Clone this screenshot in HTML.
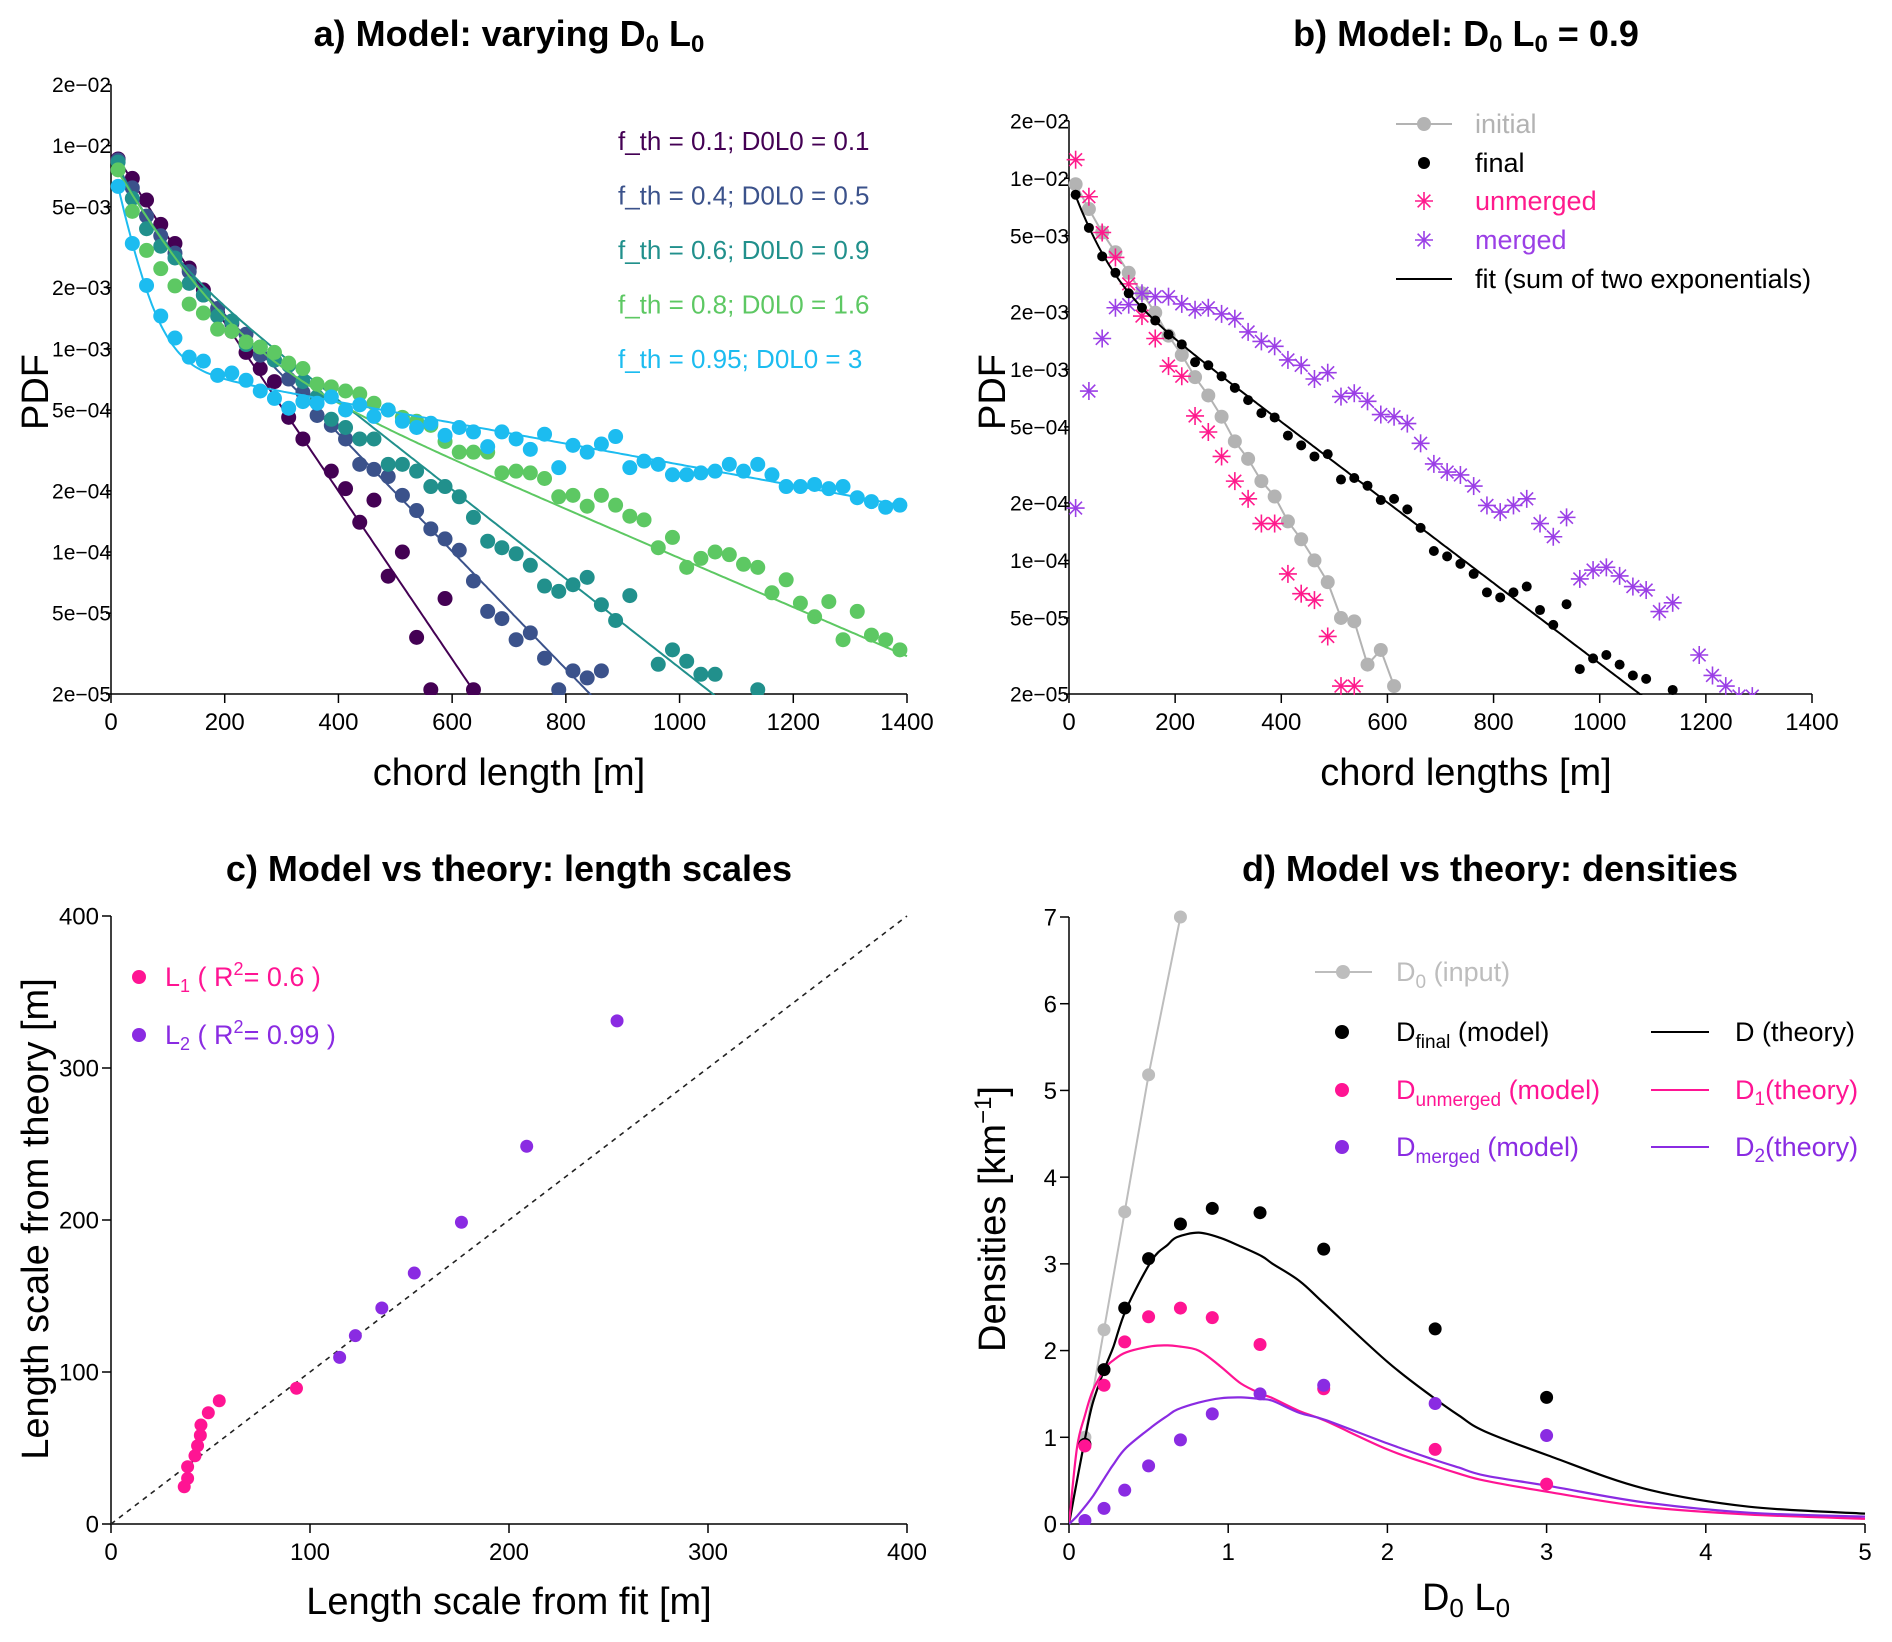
<!DOCTYPE html>
<html><head><meta charset="utf-8"><style>
html,body{margin:0;padding:0;background:#fff;}
svg{display:block;font-family:"Liberation Sans",sans-serif;}
</style></head><body>
<svg id="chart" xmlns="http://www.w3.org/2000/svg" width="1892" height="1642" viewBox="0 0 1892 1642">
<defs>
<clipPath id="clipA"><rect x="100" y="78" width="812" height="617"/></clipPath>
<clipPath id="clipB"><rect x="1060" y="112" width="760" height="583"/></clipPath>
<clipPath id="clipD"><rect x="1069" y="910" width="800" height="615"/></clipPath>
</defs>
<text x="509" y="46" text-anchor="middle" font-size="36" font-weight="bold">a) Model: varying D<tspan font-size="24" dy="6">0</tspan><tspan dy="-6"> L</tspan><tspan font-size="24" dy="6">0</tspan></text>
<text x="1466" y="46" text-anchor="middle" font-size="36" font-weight="bold">b) Model: D<tspan font-size="24" dy="6">0</tspan><tspan dy="-6"> L</tspan><tspan font-size="24" dy="6">0</tspan><tspan dy="-6"> = 0.9</tspan></text>
<text x="509" y="881" text-anchor="middle" font-size="36" font-weight="bold">c) Model vs theory: length scales</text>
<text x="1490" y="881" text-anchor="middle" font-size="36" font-weight="bold">d) Model vs theory: densities</text>
<text transform="translate(48,392) rotate(-90)" text-anchor="middle" font-size="38">PDF</text>
<text x="509" y="785" text-anchor="middle" font-size="38">chord length [m]</text>
<text transform="translate(1005,392) rotate(-90)" text-anchor="middle" font-size="38">PDF</text>
<text x="1466" y="785" text-anchor="middle" font-size="38">chord lengths [m]</text>
<text transform="translate(48,1219) rotate(-90)" text-anchor="middle" font-size="38">Length scale from theory [m]</text>
<text x="509" y="1614" text-anchor="middle" font-size="38">Length scale from fit [m]</text>
<text transform="translate(1005,1219) rotate(-90)" text-anchor="middle" font-size="38">Densities [km<tspan font-size="24" dy="-14">−1</tspan><tspan dy="14">]</tspan></text>
<text x="1466" y="1610" text-anchor="middle" font-size="38">D<tspan font-size="26" dy="7">0</tspan><tspan dy="-7"> L</tspan><tspan font-size="26" dy="7">0</tspan></text>
</svg>
<script>
// ---------- Panel a data ----------
const aLogTicks = [2e-2,1e-2,5e-3,2e-3,1e-3,5e-4,2e-4,1e-4,5e-5,2e-5];
const aLogTickLabels = ["2e−02","1e−02","5e−03","2e−03","1e−03","5e−04","2e−04","1e−04","5e−05","2e−05"];
const aXTicks = [0,200,400,600,800,1000,1200,1400];
const aLabels = ["f_th = 0.1; D0L0 = 0.1","f_th = 0.4; D0L0 = 0.5","f_th = 0.6; D0L0 = 0.9","f_th = 0.8; D0L0 = 1.6","f_th = 0.95; D0L0 = 3"];
const aColors = ["#440154","#3b528b","#21908c","#5dc863","#1cbcf0"];
const aS1 = [8.6e-3,6.9e-3,5.4e-3,4.1e-3,3.3e-3,2.5e-3,1.95e-3,1.5e-3,1.22e-3,9.6e-4,8.0e-4,6.9e-4,4.6e-4,3.6e-4,null,2.5e-4,2.05e-4,1.4e-4,1.8e-4,7.6e-5,1.0e-4,3.8e-5,2.1e-5,5.9e-5,null,2.1e-5];
const aS2 = [8.5e-3,6.2e-3,4.5e-3,3.6e-3,2.96e-3,2.4e-3,1.84e-3,1.58e-3,1.33e-3,1.18e-3,9.3e-4,8.8e-4,7.1e-4,6.1e-4,4.7e-4,4.2e-4,3.6e-4,2.7e-4,2.55e-4,2.35e-4,1.9e-4,1.6e-4,1.3e-4,1.16e-4,1.02e-4,7.2e-5,5.1e-5,4.7e-5,3.7e-5,4.0e-5,3.0e-5,2.1e-5,2.6e-5,2.4e-5,2.6e-5];
const aS3 = [8.3e-3,5.5e-3,3.9e-3,3.2e-3,2.8e-3,2.1e-3,1.84e-3,1.45e-3,1.37e-3,1.05e-3,1.02e-3,8.8e-4,8.3e-4,6.9e-4,5.8e-4,4.5e-4,4.1e-4,3.6e-4,3.6e-4,2.7e-4,2.7e-4,2.5e-4,2.1e-4,2.1e-4,1.87e-4,1.48e-4,1.13e-4,1.05e-4,9.8e-5,8.6e-5,6.8e-5,6.4e-5,6.9e-5,7.5e-5,5.5e-5,4.6e-5,6.1e-5,null,2.8e-5,3.3e-5,2.9e-5,2.5e-5,2.5e-5,null,null,2.1e-5];
const aS4 = [7.6e-3,4.75e-3,3.05e-3,2.48e-3,2.04e-3,1.66e-3,1.5e-3,1.25e-3,1.22e-3,1.08e-3,1.02e-3,9.6e-4,8.5e-4,8.0e-4,6.7e-4,6.5e-4,6.2e-4,6.0e-4,5.4e-4,5.0e-4,4.6e-4,4.4e-4,4.2e-4,3.5e-4,3.1e-4,3.1e-4,3.1e-4,2.45e-4,2.5e-4,2.45e-4,2.3e-4,1.87e-4,1.9e-4,1.68e-4,1.9e-4,1.7e-4,1.5e-4,1.44e-4,1.05e-4,1.18e-4,8.4e-5,9.3e-5,1.0e-4,9.7e-5,8.7e-5,8.4e-5,6.3e-5,7.3e-5,5.6e-5,4.8e-5,5.7e-5,3.7e-5,5.1e-5,3.9e-5,3.7e-5,3.3e-5];
const aS5 = [6.3e-3,3.3e-3,2.05e-3,1.45e-3,1.13e-3,9.1e-4,8.7e-4,7.4e-4,7.6e-4,7.0e-4,6.2e-4,5.7e-4,5.1e-4,5.5e-4,5.4e-4,5.8e-4,5.0e-4,5.3e-4,4.65e-4,5.0e-4,4.4e-4,4.1e-4,4.3e-4,3.75e-4,4.1e-4,3.9e-4,3.3e-4,3.9e-4,3.6e-4,3.2e-4,3.8e-4,2.6e-4,3.35e-4,3.1e-4,3.4e-4,3.7e-4,2.6e-4,2.8e-4,2.7e-4,2.4e-4,2.4e-4,2.45e-4,2.5e-4,2.7e-4,2.5e-4,2.7e-4,2.4e-4,2.1e-4,2.1e-4,2.15e-4,2.05e-4,2.1e-4,1.85e-4,1.77e-4,1.66e-4,1.7e-4];
// fit parameters (sum of two exponentials) per series
const aFitA1 = [1e-3,4e-3,5e-3,7e-3,8e-3];
const aFitL1 = [40,40,50,80,32];
const aFitA2 = [9e-3,5.5e-3,4.2e-3,1.5e-3,8.8e-4];
const aFitL2 = [105,150,198,360,845];

// ---------- Panel b data ----------
const bXTicks = [0,200,400,600,800,1000,1200,1400];
const bInitial = [9.3e-3,6.9e-3,5.2e-3,4.1e-3,3.2e-3,2.5e-3,1.98e-3,1.5e-3,1.19e-3,9.1e-4,7.3e-4,5.65e-4,4.2e-4,3.4e-4,2.6e-4,2.16e-4,1.6e-4,1.29e-4,1.0e-4,7.7e-5,5.0e-5,4.8e-5,2.85e-5,3.4e-5,2.2e-5];
const bFinal = [8.2e-3,5.5e-3,3.9e-3,3.2e-3,2.5e-3,2.1e-3,1.8e-3,1.52e-3,1.35e-3,1.09e-3,1.05e-3,9.2e-4,8.0e-4,6.9e-4,5.9e-4,5.6e-4,4.5e-4,4.0e-4,3.5e-4,3.6e-4,2.65e-4,2.7e-4,2.46e-4,2.07e-4,2.1e-4,1.85e-4,1.48e-4,1.12e-4,1.05e-4,9.6e-5,8.5e-5,6.8e-5,6.4e-5,6.8e-5,7.3e-5,5.5e-5,4.6e-5,5.9e-5,2.7e-5,3.07e-5,3.2e-5,2.85e-5,2.5e-5,2.4e-5,null,2.1e-5];
const bUnmerged = [1.25e-2,8.0e-3,5.2e-3,3.85e-3,2.8e-3,1.9e-3,1.45e-3,1.04e-3,9.2e-4,5.7e-4,4.7e-4,3.5e-4,2.6e-4,2.1e-4,1.56e-4,1.56e-4,8.5e-5,6.7e-5,6.2e-5,4.0e-5,2.2e-5,2.2e-5];
const bMerged = [1.88e-4,7.7e-4,1.45e-3,2.1e-3,2.18e-3,2.5e-3,2.4e-3,2.4e-3,2.2e-3,2.05e-3,2.1e-3,1.95e-3,1.84e-3,1.57e-3,1.4e-3,1.32e-3,1.12e-3,1.05e-3,8.9e-4,9.6e-4,7.2e-4,7.5e-4,6.8e-4,5.8e-4,5.65e-4,5.2e-4,4.1e-4,3.2e-4,2.9e-4,2.8e-4,2.45e-4,1.94e-4,1.79e-4,1.94e-4,2.1e-4,1.56e-4,1.33e-4,1.68e-4,8.0e-5,8.9e-5,9.2e-5,8.3e-5,7.3e-5,7.0e-5,5.4e-5,6.0e-5,null,3.2e-5,2.5e-5,2.2e-5,1.95e-5,1.95e-5];
const bFitA1 = 6.3e-3, bFitL1 = 40, bFitA2 = 3.7e-3, bFitL2 = 206;

// ---------- Panel c data ----------
const cTicks = [0,100,200,300,400];
const cL1Fit = [36.8,38.5,38.5,42.2,43.5,44.9,45.2,48.9,54.4,93.2];
const cL1Theory = [24.5,30,37.7,44.9,51.5,58.3,65.1,73.2,81.1,89.3];
const cL2Fit = [114.9,122.8,136.1,152.4,176.1,208.9,254.3];
const cL2Theory = [109.6,123.9,142.1,165.1,198.5,248.5,331];

// ---------- Panel d data ----------
const dXTicks = [0,1,2,3,4,5];
const dYTicks = [0,1,2,3,4,5,6,7];
const dD0L0 = [0.1,0.22,0.35,0.5,0.7,0.9,1.2,1.6,2.3,3.0];
const dInput = [1.0,2.24,3.6,5.18,7.0];
const dFinal = [0.92,1.78,2.49,3.06,3.46,3.64,3.59,3.17,2.25,1.46];
const dUnmerged = [0.9,1.6,2.1,2.39,2.49,2.38,2.07,1.56,0.86,0.46];
const dMerged = [0.04,0.18,0.39,0.67,0.97,1.27,1.5,1.6,1.39,1.02];
const dThX = [0,0.05,0.1,0.15,0.23,0.28,0.36,0.52,0.62,0.68,0.815,0.95,1.08,1.21,1.28,1.45,1.61,2.0,2.28,2.45,2.61,3.01,3.61,4.27,5.0];
const dThD = [0,0.5,0.98,1.4,1.82,2.05,2.48,3.04,3.22,3.31,3.36,3.3,3.2,3.09,3.0,2.8,2.53,1.87,1.47,1.25,1.07,0.79,0.41,0.2,0.12];
const dThD1 = [0,0.88,1.25,1.54,1.8,1.89,1.98,2.05,2.06,2.05,2.0,1.82,1.62,1.5,1.45,1.3,1.19,0.86,0.68,0.58,0.5,0.37,0.2,0.11,0.06];
const dThD2 = [0,0.09,0.2,0.32,0.55,0.69,0.88,1.12,1.25,1.32,1.4,1.45,1.46,1.44,1.42,1.28,1.2,0.93,0.75,0.65,0.56,0.44,0.25,0.13,0.085];

const NS = "http://www.w3.org/2000/svg";
const svg = document.getElementById('chart');
function mk(tag, a){const e=document.createElementNS(NS,tag);for(const k in a)e.setAttribute(k,a[k]);return e;}
function grp(parent){const g=mk('g',{});parent.appendChild(g);return g;}

const LT = Math.log10(2e-2), LB = Math.log10(2e-5);
const aX = m => 111 + m*(907-111)/1400;
const aY = v => 84.5 + (LT-Math.log10(v))/(LT-LB)*(694-84.5);
const bX = m => 1069 + m*(1812-1069)/1400;
const bY = v => 120.7 + (LT-Math.log10(v))/(LT-LB)*(694-120.7);
const cX = u => 111 + u*(907-111)/400;
const cY = u => 1524 - u*(1524-916)/400;
const dX = u => 1069 + u*(1865-1069)/5;
const dY = u => 1524 - u*(1524-917)/7;
const binX = i => 12.5 + 25*i;

function axisLines(name, x0,x1,y0,y1){
  const ax = mk('line',{x1:x0,y1:y1,x2:x1,y2:y1,stroke:'#000','stroke-width':1.5});
  
  
  svg.appendChild(ax);
  const ay = mk('line',{x1:x0,y1:y0,x2:x0,y2:y1,stroke:'#000','stroke-width':1.5});
  
  
  svg.appendChild(ay);
}
function xTick(name, x, y, label, fs){
  const t = mk('line',{x1:x,y1:y,x2:x,y2:y+9,stroke:'#000','stroke-width':1.5});
  
  
  svg.appendChild(t);
  const tx = mk('text',{x:x,y:y+36,'text-anchor':'middle','font-size':fs});
  tx.textContent = label;
  
  
  svg.appendChild(tx);
}
function yTick(name, x, y, label, fs, len, gap){
  const t = mk('line',{x1:x-len,y1:y,x2:x,y2:y,stroke:'#000','stroke-width':1.5});
  
  
  svg.appendChild(t);
  const tx = mk('text',{x:x-gap,y:y+fs*0.36,'text-anchor':'end','font-size':fs});
  tx.textContent = label;
  
  
  svg.appendChild(tx);
}
function asterisk(parent, x, y, r, color, name){
  const g = mk('g',{stroke:color,'stroke-width':1.6});
  const d = r*0.707;
  g.appendChild(mk('line',{x1:x-r,y1:y,x2:x+r,y2:y}));
  g.appendChild(mk('line',{x1:x,y1:y-r,x2:x,y2:y+r}));
  g.appendChild(mk('line',{x1:x-d,y1:y-d,x2:x+d,y2:y+d}));
  g.appendChild(mk('line',{x1:x-d,y1:y+d,x2:x+d,y2:y-d}));
  
  
  parent.appendChild(g);
}
function splinePath(pts){
  let d = 'M'+pts[0][0].toFixed(1)+','+pts[0][1].toFixed(1);
  for (let i=0;i<pts.length-1;i++){
    const p0 = pts[Math.max(0,i-1)], p1 = pts[i], p2 = pts[i+1], p3 = pts[Math.min(pts.length-1,i+2)];
    const c1x = p1[0]+(p2[0]-p0[0])/6, c1y = p1[1]+(p2[1]-p0[1])/6;
    const c2x = p2[0]-(p3[0]-p1[0])/6, c2y = p2[1]-(p3[1]-p1[1])/6;
    d += 'C'+c1x.toFixed(1)+','+c1y.toFixed(1)+' '+c2x.toFixed(1)+','+c2y.toFixed(1)+' '+p2[0].toFixed(1)+','+p2[1].toFixed(1);
  }
  return d;
}

// ===== Panel a =====
axisLines('panel-a', 111, 907, 84.5, 694);
aXTicks.forEach(v => xTick('panel-a', aX(v), 694, String(v), 24));
aLogTicks.forEach((v,i) => yTick('panel-a', aX(0), aY(v), aLogTickLabels[i], 21, 5, 0));
const aSeries = [aS1,aS2,aS3,aS4,aS5];
const aPlot = mk('g',{'clip-path':'url(#clipA)'});


svg.appendChild(aPlot);
aSeries.forEach((s,k) => {
  const g = grp(aPlot);
  
  
  s.forEach((v,i) => {
    if (v === null) return;
    const c = mk('circle',{cx:aX(binX(i)),cy:aY(v),r:7.5,fill:aColors[k]});
    
    
    g.appendChild(c);
  });
  let d = '';
  for (let m=12; m<=1400; m+=4){
    const v = aFitA1[k]*Math.exp(-m/aFitL1[k]) + aFitA2[k]*Math.exp(-m/aFitL2[k]);
    const y = Math.min(aY(v), 760);
    d += (d?'L':'M') + aX(m).toFixed(1) + ',' + y.toFixed(1);
    if (y >= 760) break;
  }
  const p = mk('path',{d:d,fill:'none',stroke:aColors[k],'stroke-width':2});
  
  
  g.appendChild(p);
});
aLabels.forEach((t,k) => {
  const tx = mk('text',{x:618,y:150+k*54.5,'font-size':26,fill:aColors[k]});
  tx.textContent = t;
  
  
  svg.appendChild(tx);
});

// ===== Panel b =====
axisLines('panel-b', 1069, 1812, 120.7, 694);
bXTicks.forEach(v => xTick('panel-b', bX(v), 694, String(v), 24));
aLogTicks.forEach((v,i) => yTick('panel-b', bX(0), bY(v), aLogTickLabels[i], 21, 5, 0));
const bPlot = mk('g',{'clip-path':'url(#clipB)'});


svg.appendChild(bPlot);
{
  const g = grp(bPlot);
  
  
  let d='';
  bInitial.forEach((v,i)=>{ if(v!==null) d += (d?'L':'M') + bX(binX(i)).toFixed(1)+','+bY(v).toFixed(1); });
  const p = mk('path',{d:d,fill:'none',stroke:'#b3b3b3','stroke-width':2});
  
  
  g.appendChild(p);
  bInitial.forEach((v,i)=>{
    if(v===null) return;
    const c = mk('circle',{cx:bX(binX(i)),cy:bY(v),r:7,fill:'#b3b3b3'});
    
    
    g.appendChild(c);
  });
}
{
  const g = grp(bPlot);
  
  
  bUnmerged.forEach((v,i)=>{ if(v!==null) asterisk(g, bX(binX(i)), bY(v), 9, '#ff1a8c', 'panel-b-unmerged-point'); });
}
{
  const g = grp(bPlot);
  
  
  bMerged.forEach((v,i)=>{ if(v!==null) asterisk(g, bX(binX(i)), bY(v), 9, '#9b3fe6', 'panel-b-merged-point'); });
}
{
  const g = grp(bPlot);
  
  
  let d='';
  for (let m=12; m<=1400; m+=4){
    const v = bFitA1*Math.exp(-m/bFitL1) + bFitA2*Math.exp(-m/bFitL2);
    const y = Math.min(bY(v), 760);
    d += (d?'L':'M') + bX(m).toFixed(1)+','+y.toFixed(1);
    if (y>=760) break;
  }
  const p = mk('path',{d:d,fill:'none',stroke:'#000','stroke-width':2});
  
  
  g.appendChild(p);
  bFinal.forEach((v,i)=>{
    if(v===null) return;
    const c = mk('circle',{cx:bX(binX(i)),cy:bY(v),r:5,fill:'#000'});
    
    
    g.appendChild(c);
  });
}
{
  const lg = grp(svg);
  
  
  const ys = [124,163,201,240,279];
  const l1 = mk('line',{x1:1396,y1:ys[0],x2:1452,y2:ys[0],stroke:'#b3b3b3','stroke-width':2});
  
  
  lg.appendChild(l1);
  const c1 = mk('circle',{cx:1424,cy:ys[0],r:7,fill:'#b3b3b3'});
  
  
  lg.appendChild(c1);
  const c2 = mk('circle',{cx:1424,cy:ys[1],r:6,fill:'#000'});
  
  
  lg.appendChild(c2);
  asterisk(lg,1424,ys[2],9,'#ff1a8c','legend-unmerged-marker');
  asterisk(lg,1424,ys[3],9,'#9b3fe6','legend-merged-marker');
  const l5 = mk('line',{x1:1396,y1:ys[4],x2:1452,y2:ys[4],stroke:'#000','stroke-width':2});
  
  
  lg.appendChild(l5);
  const names = ['initial','final','unmerged','merged','fit (sum of two exponentials)'];
  const cols = ['#b3b3b3','#000','#ff1a8c','#9b3fe6','#000'];
  names.forEach((t,i)=>{
    const tx = mk('text',{x:1475,y:ys[i]+9,'font-size':27,fill:cols[i]});
    tx.textContent = t;
    
    
    lg.appendChild(tx);
  });
}

// ===== Panel c =====
axisLines('panel-c', 111, 907, 916, 1524);
cTicks.forEach(v => xTick('panel-c', cX(v), 1524, String(v), 24));
cTicks.forEach(v => yTick('panel-c', cX(0), cY(v), String(v), 24, 9, 12));
{
  const dl = mk('line',{x1:cX(0),y1:cY(0),x2:cX(400),y2:cY(400),stroke:'#222','stroke-width':1.6,'stroke-dasharray':'5,5'});
  
  
  svg.appendChild(dl);
  const g1 = grp(svg);
  
  
  cL1Fit.forEach((v,i)=>{
    const c = mk('circle',{cx:cX(v),cy:cY(cL1Theory[i]),r:6.5,fill:'#ff1493'});
    
    
    g1.appendChild(c);
  });
  const g2 = grp(svg);
  
  
  cL2Fit.forEach((v,i)=>{
    const c = mk('circle',{cx:cX(v),cy:cY(cL2Theory[i]),r:6.5,fill:'#8a2be2'});
    
    
    g2.appendChild(c);
  });
  const lc1 = mk('circle',{cx:139,cy:977,r:7,fill:'#ff1493'});
  
  
  svg.appendChild(lc1);
  const lc2 = mk('circle',{cx:139,cy:1035,r:7,fill:'#8a2be2'});
  
  
  svg.appendChild(lc2);
  const t1 = mk('text',{x:165,y:986,'font-size':27,fill:'#ff1493'});
  t1.innerHTML = 'L<tspan font-size="18" dy="6">1</tspan><tspan dy="-6">  ( R</tspan><tspan font-size="18" dy="-11">2</tspan><tspan dy="11">= 0.6 )</tspan>';
  
  
  svg.appendChild(t1);
  const t2 = mk('text',{x:165,y:1044,'font-size':27,fill:'#8a2be2'});
  t2.innerHTML = 'L<tspan font-size="18" dy="6">2</tspan><tspan dy="-6">  ( R</tspan><tspan font-size="18" dy="-11">2</tspan><tspan dy="11">= 0.99 )</tspan>';
  
  
  svg.appendChild(t2);
}

// ===== Panel d =====
axisLines('panel-d', 1069, 1865, 917, 1524);
dXTicks.forEach(v => xTick('panel-d', dX(v), 1524, String(v), 24));
dYTicks.forEach(v => yTick('panel-d', dX(0), dY(v), String(v), 24, 9, 12));
{
  const dp = mk('g',{'clip-path':'url(#clipD)'});
  
  
  svg.appendChild(dp);
  function curve(ys, color, name){
    const pts = dThX.map((x,i)=>[dX(x), dY(ys[i])]);
    const p = mk('path',{d:splinePath(pts),fill:'none',stroke:color,'stroke-width':2.2,'stroke-linejoin':'round'});
    
    
    dp.appendChild(p);
  }
  let d='';
  dInput.forEach((v,i)=>{ d += (d?'L':'M') + dX(dD0L0[i]).toFixed(1)+','+dY(v).toFixed(1); });
  const pin = mk('path',{d:d,fill:'none',stroke:'#bdbdbd','stroke-width':2});
  
  
  dp.appendChild(pin);
  dInput.forEach((v,i)=>{
    const c = mk('circle',{cx:dX(dD0L0[i]),cy:dY(v),r:6.5,fill:'#bdbdbd'});
    
    
    dp.appendChild(c);
  });
  curve(dThD,'#000','panel-d-D-theory-line');
  curve(dThD1,'#ff1493','panel-d-D1-theory-line');
  curve(dThD2,'#8a2be2','panel-d-D2-theory-line');
  const sets = [[dFinal,'#000','panel-d-final-point'],[dUnmerged,'#ff1493','panel-d-unmerged-point'],[dMerged,'#8a2be2','panel-d-merged-point']];
  sets.forEach(s=>{
    s[0].forEach((v,i)=>{
      const c = mk('circle',{cx:dX(dD0L0[i]),cy:dY(v),r:6.5,fill:s[1]});
      
      
      dp.appendChild(c);
    });
  });
  const ll = mk('line',{x1:1315,y1:972,x2:1372,y2:972,stroke:'#bdbdbd','stroke-width':2});
  
  
  svg.appendChild(ll);
  const lc = mk('circle',{cx:1343,cy:972,r:7,fill:'#bdbdbd'});
  
  
  svg.appendChild(lc);
  const lys = [1032,1090,1147];
  const lcols = ['#000','#ff1493','#8a2be2'];
  const subs = ['final','unmerged','merged'];
  const rt = ['D (theory)','D<tspan font-size="19" dy="6">1</tspan><tspan dy="-6">(theory)</tspan>','D<tspan font-size="19" dy="6">2</tspan><tspan dy="-6">(theory)</tspan>'];
  lys.forEach((y,i)=>{
    const c = mk('circle',{cx:1342,cy:y,r:7,fill:lcols[i]});
    
    
    svg.appendChild(c);
    const t = mk('text',{x:1396,y:y+9,'font-size':27,fill:lcols[i]});
    t.innerHTML = 'D<tspan font-size="19" dy="7">'+subs[i]+'</tspan><tspan dy="-7"> (model)</tspan>';
    
    
    svg.appendChild(t);
    const l = mk('line',{x1:1651,y1:y,x2:1709,y2:y,stroke:lcols[i],'stroke-width':2});
    
    
    svg.appendChild(l);
    const t2 = mk('text',{x:1735,y:y+9,'font-size':27,fill:lcols[i]});
    t2.innerHTML = rt[i];
    
    
    svg.appendChild(t2);
  });
  const ti = mk('text',{x:1396,y:981,'font-size':27,fill:'#bdbdbd'});
  ti.innerHTML = 'D<tspan font-size="19" dy="7">0</tspan><tspan dy="-7"> (input)</tspan>';
  
  
  svg.appendChild(ti);
}
</script>
</body></html>
